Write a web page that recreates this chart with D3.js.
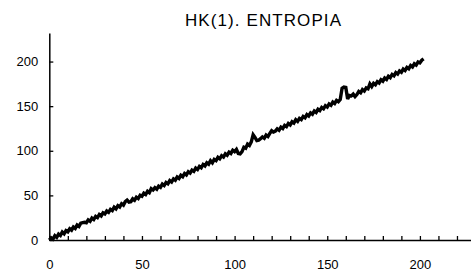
<!DOCTYPE html>
<html><head><meta charset="utf-8">
<script src="https://cdn.jsdelivr.net/npm/d3@7"></script>
<style>body{margin:0;background:#fff}svg{display:block}text{font-family:"Liberation Sans",Arial,sans-serif;fill:#000}</style>
</head><body><svg id="c" width="471" height="271"></svg>
<script>
const title = "HK(1). ENTROPIA";
const xValues = d3.range(0, 203);
const yValues = [
0, 2.5, 1, 4.8, 3, 6.6, 5, 8.9, 7, 10.5,
9.2, 12.6, 11, 14.5, 13, 16.8, 15.2, 18.9, 19.5, 19.8,
19.3, 22.5, 21, 24.6, 23, 26.4, 25, 28.6, 27, 30.5,
29.2, 32.6, 31, 34.4, 33, 36.8, 35, 38.5, 37, 40.6,
39, 43, 44.8, 42.5, 43, 46.2, 44.5, 48, 46.5, 50.2,
49, 52.5, 51, 54.6, 53, 57.5, 56, 58.6, 57, 60.4,
59, 62.6, 61, 64.5, 63, 66.6, 65, 68.5, 67, 70.6,
69, 72.5, 71, 74.6, 73, 76.5, 75, 78.4, 77, 80.6,
79, 82.5, 81, 84.6, 83, 86.5, 85, 88.8, 86.5, 90.4,
89, 92.6, 91, 94.5, 93, 96.6, 95, 98.5, 97, 100.6,
99, 101.5, 97, 96.5, 99, 104, 103, 107.5, 106, 110,
118, 115, 111.5, 112, 113.5, 115.5, 114, 117.6, 116, 119.5,
122.5, 121, 122, 124.6, 123, 126.5, 125, 128.4, 127, 130.6,
129, 132.5, 131, 134.8, 133, 136.4, 135, 138.5, 137, 140.6,
139, 142.5, 141, 144.6, 143, 146.5, 145, 148.6, 147, 150.5,
149, 152.5, 151, 154.6, 153, 156.5, 155, 157.5, 170, 171.5,
171, 158, 162, 161.5, 163.5, 160.8, 163, 166.5, 165, 168.6,
167, 170.5, 169.5, 175, 172, 175.6, 174, 177.5, 176, 179.6,
178, 181.5, 180, 183.6, 182, 185.5, 184, 187.6, 186, 189.5,
188, 191.6, 190, 193.5, 192, 195.6, 194, 197.5, 196, 199.6,
198.5, 201.5, 203
];
const xTickValues = [0, 10, 20, 30, 40, 50, 60, 70, 80, 90, 100, 110, 120, 130, 140, 150, 160, 170, 180, 190, 200, 210, 220];
const xTickLabels = [0, 50, 100, 150, 200];
const yTickValues = [0, 50, 100, 150, 200];

const svg = d3.select("#c");
const x = d3.scaleLinear().domain([0, 230]).range([49.3, 475.5]);
const y = d3.scaleLinear().domain([0, 232]).range([240, 33]);

svg.append("text").attr("x", 263).attr("y", 26).attr("text-anchor", "middle")
  .attr("font-size", 17).attr("textLength", 156).text(title);

const line = d3.line().x((d, i) => x(xValues[i])).y(d => y(d));
svg.append("path").datum(yValues).attr("d", line)
  .attr("fill", "none").attr("stroke", "#000").attr("stroke-width", 3.4)
  .attr("stroke-linejoin", "miter").attr("stroke-miterlimit", 3);

// x axis
const gx = svg.append("g").attr("transform", `translate(0,${y(0)})`)
  .call(d3.axisBottom(x).tickValues(xTickValues).tickSize(0).tickFormat(""));
gx.select(".domain").attr("stroke", "#000").attr("stroke-width", 1.5);
gx.selectAll(".tick line").remove();
gx.selectAll(".tick").append("line").attr("y1", -4).attr("y2", 1)
  .attr("stroke", "#000").attr("stroke-width", 1.3);
svg.append("g").attr("transform", `translate(0,${y(0)})`)
  .call(d3.axisBottom(x).tickValues(xTickLabels).tickSize(0).tickPadding(20))
  .call(g => g.select(".domain").remove())
  .selectAll("text").attr("font-size", 13).attr("font-family", "Liberation Sans, Arial, sans-serif");

// y axis
const gy = svg.append("g").attr("transform", `translate(${x(0)},0)`)
  .call(d3.axisLeft(y).tickValues(yTickValues).tickSize(0).tickPadding(11));
gy.select(".domain").attr("stroke", "#000").attr("stroke-width", 1.5);
gy.selectAll(".tick").append("line").attr("x1", 0).attr("x2", 4)
  .attr("stroke", "#000").attr("stroke-width", 1.3);
gy.selectAll("text").attr("font-size", 13).attr("font-family", "Liberation Sans, Arial, sans-serif");
</script></body></html>
